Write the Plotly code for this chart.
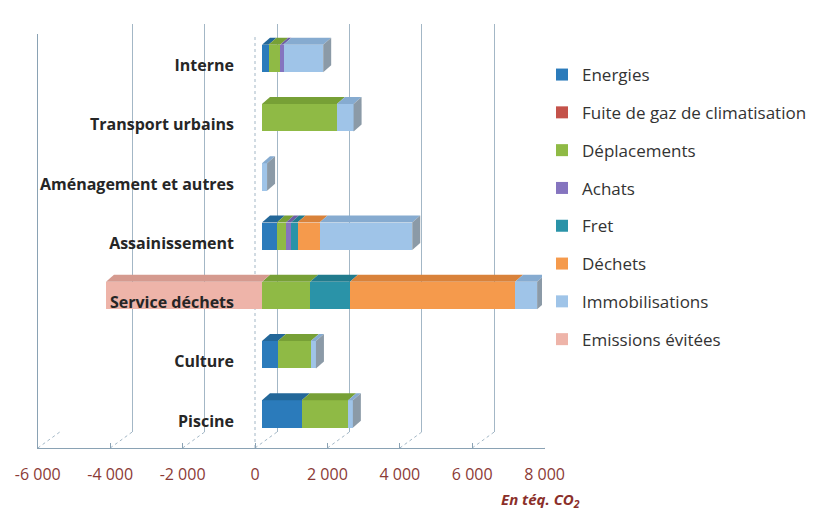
import plotly.graph_objects as go

# --- data -------------------------------------------------------------
categories = ["Interne", "Transport urbains", "Aménagement et autres",
              "Assainissement", "Service déchets", "Culture", "Piscine"]

energies          = [180, 0, 0, 410, 0, 440, 1100]
fuite_gaz         = [0, 0, 0, 0, 0, 0, 0]
deplacements      = [320, 2070, 0, 250, 1330, 910, 1280]
achats            = [90, 0, 0, 140, 0, 0, 0]
fret              = [0, 0, 0, 180, 1100, 0, 0]
dechets           = [0, 0, 0, 610, 4560, 0, 0]
immobilisations   = [1100, 460, 140, 2560, 610, 140, 130]
emissions_evitees = [0, 0, 0, 0, -4310, 0, 0]

series_names = ["Energies", "Fuite de gaz de climatisation", "Déplacements",
                "Achats", "Fret", "Déchets", "Immobilisations",
                "Emissions évitées"]
series_values = [energies, fuite_gaz, deplacements, achats, fret, dechets,
                 immobilisations, emissions_evitees]

tick_values = [-6000, -4000, -2000, 0, 2000, 4000, 6000, 8000]
tick_labels = ["-6 000", "-4 000", "-2 000", "0", "2 000", "4 000",
               "6 000", "8 000"]

# --- styling ----------------------------------------------------------
front_colors = ["#2b7bbb", "#c4524a", "#8fba45", "#8574bf", "#2a93a8",
                "#f59a4c", "#9fc4e8", "#eeb4a9"]
top_colors = ["#236799", "#a2433d", "#77a036", "#6d5ea3", "#217b8d",
              "#d9823a", "#86abd0", "#d59a8f"]
side_color = "#8b9aa7"
grid_color = "#a3b7c6"

W, H = 817, 511
PX_PER_UNIT = 0.0362          # pixels per tCO2e on the value axis
VMIN, VMAX = -6000, 8000

def px_x(p):
    return p / W

def px_y(p):
    return 1 - p / H

# bar plane (middle depth)
bar_zero_px = 262
bar_dom = [px_x(bar_zero_px + VMIN * PX_PER_UNIT),
           px_x(bar_zero_px + VMAX * PX_PER_UNIT)]
row_px = 59.25
row0_px = 58.5
y_lo, y_hi = -0.6, 6.6
bar_ydom = [px_y(row0_px + y_hi * row_px), px_y(row0_px + y_lo * row_px)]

# front plane (tick labels, floor line) and back wall (gridlines)
front_zero_px = 255
back_zero_px = 277
front_dom = [px_x(front_zero_px + VMIN * PX_PER_UNIT),
             px_x(front_zero_px + VMAX * PX_PER_UNIT)]
back_dom = [px_x(back_zero_px + VMIN * PX_PER_UNIT),
            px_x(back_zero_px + VMAX * PX_PER_UNIT)]
floor_front_px, floor_back_px = 448, 432
back_shift = (back_zero_px - front_zero_px) / PX_PER_UNIT

# depth of the 3D bars
DX = 8 / PX_PER_UNIT
DY = 7 / row_px
BAR_W = 0.46

fig = go.Figure()

# back wall (gridlines only)
fig.add_trace(go.Scatter(x=tick_values, y=[0.5] * len(tick_values),
                         mode="markers", marker=dict(opacity=0),
                         hoverinfo="skip", showlegend=False,
                         xaxis="x", yaxis="y"))
# front floor axis
fig.add_trace(go.Scatter(x=tick_values, y=[0.5] * len(tick_values),
                         mode="markers", marker=dict(opacity=0),
                         hoverinfo="skip", showlegend=False,
                         xaxis="x2", yaxis="y2"))

rows = list(range(len(categories)))
for name, vals, col in zip(series_names, series_values, front_colors):
    fig.add_trace(go.Bar(
        y=rows, x=vals, name=name, orientation="h",
        marker=dict(color=col, line=dict(width=0)),
        width=BAR_W, xaxis="x3", yaxis="y3", legendgroup=name,
    ))

# 3D faces: top face on every segment, side face at the far right end
shapes = []
for i in rows:
    pos, neg = 0.0, 0.0
    segs = []
    for k, vals in enumerate(series_values):
        v = vals[i]
        if v > 0:
            segs.append((pos, pos + v, k))
            pos += v
        elif v < 0:
            segs.append((neg + v, neg, k))
            neg += v
    top = i - BAR_W / 2
    bot = i + BAR_W / 2
    for s, e, k in segs:
        shapes.append(dict(
            type="path", xref="x3", yref="y3", layer="above",
            path=(f"M{s},{top} L{s + DX},{top - DY} L{e + DX},{top - DY} "
                  f"L{e},{top} Z"),
            fillcolor=top_colors[k], line=dict(width=0)))
    if segs:
        right = max(pos, 0.0)
        shapes.append(dict(
            type="path", xref="x3", yref="y3", layer="above",
            path=(f"M{right},{top} L{right + DX},{top - DY} "
                  f"L{right + DX},{bot - DY} L{right},{bot} Z"),
            fillcolor=side_color, line=dict(width=0)))

# floor gridlines running from the front axis back to the wall
for v in tick_values:
    shapes.append(dict(
        type="line", xref="x2", yref="paper", layer="below",
        x0=v, x1=v + back_shift,
        y0=px_y(floor_front_px), y1=px_y(floor_back_px),
        line=dict(color=grid_color, width=1, dash="dot")))
# category axis at zero on the front plane
shapes.append(dict(type="line", xref="x2", yref="y2 domain", layer="below",
                   x0=0, x1=0, y0=0, y1=1,
                   line=dict(color=grid_color, width=1, dash="dot")))

font_family = "Open Sans"

fig.update_layout(
    width=W, height=H,
    margin=dict(l=0, r=0, t=0, b=0, autoexpand=False),
    paper_bgcolor="white", plot_bgcolor="rgba(0,0,0,0)",
    barmode="relative",
    bargap=0,
    shapes=shapes,
    showlegend=True,
    legend=dict(
        x=px_x(542), y=px_y(57), xanchor="left", yanchor="top",
        bgcolor="white", traceorder="grouped", tracegroupgap=12.7,
        font=dict(family=font_family, size=17, color="#333333"),
    ),
    xaxis=dict(domain=back_dom, range=[VMIN, VMAX], tickvals=tick_values,
               showgrid=True, gridcolor=grid_color, gridwidth=1,
               showticklabels=False, zeroline=False, showline=False,
               ticks=""),
    yaxis=dict(domain=[px_y(floor_back_px), px_y(24)], range=[0, 1],
               showgrid=False, showticklabels=False, zeroline=False,
               showline=False, ticks=""),
    xaxis2=dict(domain=front_dom, range=[VMIN, VMAX], anchor="y2",
                tickvals=tick_values, ticktext=tick_labels,
                showgrid=False, zeroline=False,
                showline=True, linecolor="#8aa2b4", linewidth=1,
                ticks="inside", ticklen=5, tickcolor="#8aa2b4",
                ticklabelstandoff=12,
                tickfont=dict(family=font_family, size=16, color="#8b3a36")),
    yaxis2=dict(domain=[px_y(floor_front_px), px_y(34)], range=[0, 1],
                anchor="x2", showgrid=False, showticklabels=False,
                zeroline=False, showline=True, linecolor="#8aa2b4",
                linewidth=1, ticks=""),
    xaxis3=dict(domain=bar_dom, range=[VMIN, VMAX], anchor="y3",
                visible=False, showgrid=False, zeroline=False),
    yaxis3=dict(domain=bar_ydom, range=[y_hi, y_lo], anchor="free",
                position=px_x(234), tickvals=rows, ticktext=categories,
                showgrid=False, zeroline=False, showline=False, ticks="",
                ticklabelshift=-7,
                tickfont=dict(family=font_family, size=16, color="#262626",
                              weight="bold")),
    annotations=[dict(
        text="<b><i>En téq. CO<sub>2</sub></i></b>",
        xref="paper", yref="paper", x=px_x(582), y=px_y(500),
        xanchor="right", yanchor="middle", showarrow=False,
        font=dict(family=font_family, size=15, color="#8b2f2a"))],
)

fig.write_html("out.html")
